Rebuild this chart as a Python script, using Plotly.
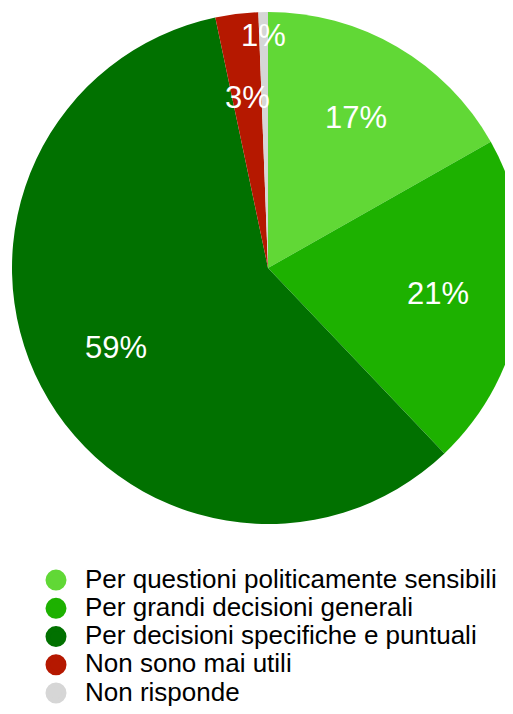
import math
import plotly.graph_objects as go

# ---- data ----
labels = [
    "Per questioni politicamente sensibili",
    "Per grandi decisioni generali",
    "Per decisioni specifiche e puntuali",
    "Non sono mai utili",
    "Non risponde",
]
values = [16.8, 21.1, 58.8, 2.7, 0.6]
colors = ["#61D836", "#1DB100", "#017100", "#B51800", "#D6D6D6"]

# ---- layout / style ----
W, H = 520, 732          # figure larger than window -> clipped like reference
CX, CY, R = 260, 260, 256
label_radius = [0.68, 0.67, 0.67, 0.67, 0.91]
FONT = "Liberation Sans, Arial, Helvetica, sans-serif"

fig = go.Figure()
fig.add_trace(go.Pie(
    labels=labels,
    values=values,
    sort=False,
    direction="clockwise",
    rotation=0,
    marker=dict(colors=colors, line=dict(width=0)),
    textinfo="none",
    hoverinfo="label+percent",
    showlegend=False,
    domain=dict(x=[(CX - R) / W, (CX + R) / W],
                y=[1 - (CY + R) / H, 1 - (CY - R) / H]),
))

# legend entries (circle markers)
for lab, col in zip(labels, colors):
    fig.add_trace(go.Scatter(
        x=[None], y=[None], mode="markers",
        name='<span style="font-size:26px">' + lab + "</span>",
        marker=dict(color=col, size=16, symbol="circle",
                    line=dict(color=col, width=5)),
        showlegend=True, hoverinfo="skip",
    ))

# percentage labels computed from values
total = sum(values)
annotations = []
cum = 0.0
for v, f in zip(values, label_radius):
    mid = (cum + v / 2) / total * 2 * math.pi
    cum += v
    px = CX + R * f * math.sin(mid)
    py = CY - R * f * math.cos(mid)
    annotations.append(dict(
        x=px / W, y=1 - py / H, xref="paper", yref="paper",
        text=f"{round(v / total * 100)}%", showarrow=False,
        font=dict(family=FONT, size=31, color="white"),
        xanchor="center", yanchor="middle",
    ))

fig.update_layout(
    width=W, height=H,
    margin=dict(l=0, r=0, t=0, b=0),
    paper_bgcolor="white", plot_bgcolor="white",
    font=dict(family=FONT, color="#000000"),
    xaxis=dict(visible=False), yaxis=dict(visible=False),
    showlegend=True,
    legend=dict(
        x=19 / W, y=1 - 553 / H, xanchor="left", yanchor="top",
        font=dict(family=FONT, size=19.4, color="#000000"),
        itemwidth=48, bgcolor="rgba(0,0,0,0)",
        tracegroupgap=0,
    ),
    annotations=annotations,
)

fig.write_html("out.html")
